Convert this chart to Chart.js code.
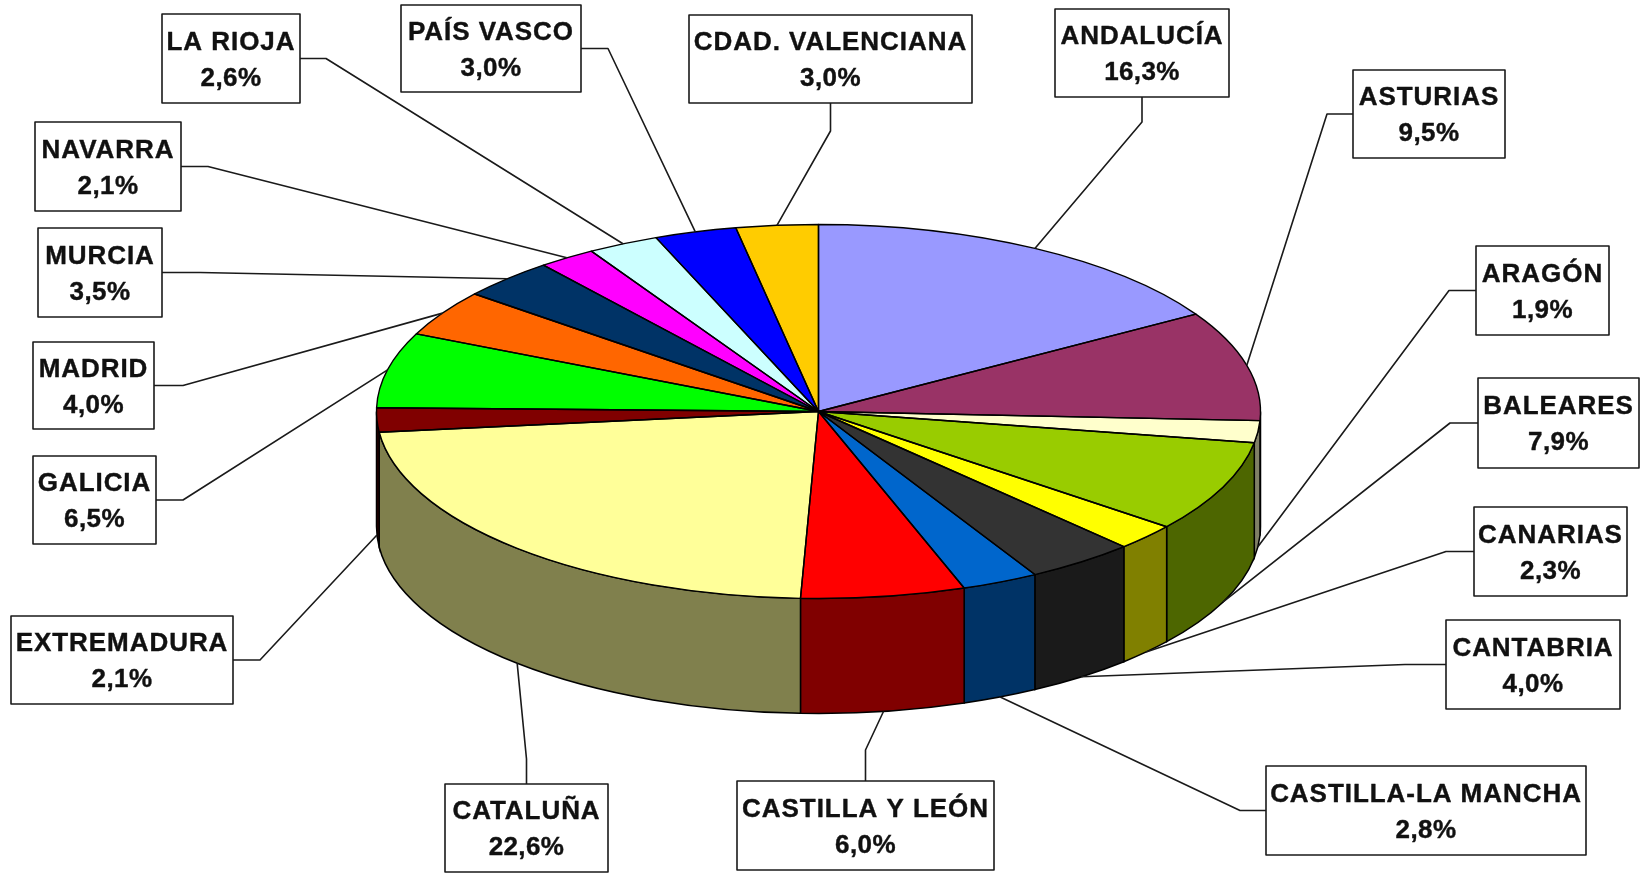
<!DOCTYPE html>
<html>
<head>
<meta charset="utf-8">
<style>html,body{margin:0;padding:0;background:#fff}#w{width:1641px;height:874px;position:relative}</style>
<script src="https://cdn.jsdelivr.net/npm/chart.js@4"></script>
</head>
<body>
<div id="w"><canvas id="c" role="img" aria-label="Gráfico de sectores por comunidades autónomas"></canvas></div>
<script>
const categories = ['ANDALUCÍA','ASTURIAS','ARAGÓN','BALEARES','CANARIAS','CANTABRIA','CASTILLA-LA MANCHA','CASTILLA Y LEÓN','CATALUÑA','EXTREMADURA','GALICIA','MADRID','MURCIA','NAVARRA','LA RIOJA','PAÍS VASCO','CDAD. VALENCIANA'];
const shares = [16.3,9.5,1.9,7.9,2.3,4.0,2.8,6.0,22.6,2.1,6.5,4.0,3.5,2.1,2.6,3.0,3.0];
const topColors = ['#9999FF','#993366','#FFFFCC','#99CC00','#FFFF00','#333333','#0066CC','#FF0000','#FFFF99','#800000','#00FF00','#FF6600','#003366','#FF00FF','#CCFFFF','#0000FF','#FFCC00'];
const wallColors = ['#4D4D80','#4D1A33','#808066','#4D6600','#808000','#1A1A1A','#003366','#800000','#80804D','#260000','#008000','#803300','#001A33','#800080','#668080','#000080','#806600'];

// label box layout: x, y, w, h, side the leader leaves from, elbow distance
const boxes = [
  [1055,9,174,88,'b',25],[1353,70,152,88,'l',26],[1476,246,133,89,'l',27],[1478,378,161,90,'l',28],
  [1474,507,153,89,'l',28],[1446,620,174,89,'l',41],[1266,766,320,89,'l',26],[737,781,257,89,'t',31],
  [445,784,163,88,'t',25],[11,616,222,88,'r',27],[33,456,123,88,'r',27],[33,342,121,87,'r',29],
  [38,228,124,89,'r',38],[35,122,146,89,'r',27],[162,14,138,89,'r',26],[401,5,180,87,'r',27],[689,15,283,88,'b',28]
];
const squash = 187/442, depth = 115, ink = '#1a1a1a';

const pie3d = {
  id:'pie3d',
  beforeDatasetsDraw(chart){
    const {ctx} = chart, arcs = chart.getDatasetMeta(0).data;
    ctx.save();
    ctx.lineWidth = 1.5; ctx.strokeStyle = '#000';
    arcs.forEach((a,i)=>{
      const s = Math.max(a.startAngle,0), e = Math.min(a.endAngle,Math.PI);
      if (e <= s) return;
      const rx = a.outerRadius, ry = rx*squash;
      ctx.beginPath();
      ctx.ellipse(a.x,a.y,rx,ry,0,s,e);
      ctx.ellipse(a.x,a.y+depth,rx,ry,0,e,s,true);
      ctx.closePath();
      ctx.fillStyle = wallColors[i]; ctx.fill(); ctx.stroke();
    });
    ctx.restore();
    const a = arcs[0];
    ctx.save();
    ctx.translate(a.x,a.y); ctx.scale(1,squash); ctx.translate(-a.x,-a.y);
  },
  afterDatasetsDraw(chart){
    const {ctx} = chart, arcs = chart.getDatasetMeta(0).data;
    ctx.restore();
    ctx.save();
    arcs.forEach(a=>{
      const rx = a.outerRadius, ry = rx*squash;
      ctx.beginPath();
      ctx.moveTo(a.x,a.y);
      ctx.ellipse(a.x,a.y,rx,ry,0,a.startAngle,a.endAngle);
      ctx.closePath();
      ctx.lineWidth = 1.4; ctx.strokeStyle = '#000'; ctx.lineJoin='round'; ctx.stroke();
    });
    // leaders and boxes
    ctx.lineWidth = 1.6; ctx.strokeStyle = ink;
    arcs.forEach((a,i)=>{
      const [x,y,w,h,side,el] = boxes[i];
      const mid = (a.startAngle+a.endAngle)/2;
      const rx = a.outerRadius, ry = rx*squash;
      const ex = a.x+rx*Math.cos(mid);
      let ey = a.y+ry*Math.sin(mid);
      if (Math.sin(mid) > 0) ey += depth;
      let p, q;
      if (side==='l'){p=[x,y+h/2];q=[x-el,y+h/2];}
      if (side==='r'){p=[x+w,y+h/2];q=[x+w+el,y+h/2];}
      if (side==='t'){p=[x+w/2,y];q=[x+w/2,y-el];}
      if (side==='b'){p=[x+w/2,y+h];q=[x+w/2,y+h+el];}
      ctx.beginPath();ctx.moveTo(p[0],p[1]);ctx.lineTo(q[0],q[1]);ctx.lineTo(ex,ey);ctx.stroke();
    });
    arcs.forEach((a,i)=>{
      const [x,y,w,h] = boxes[i];
      ctx.fillStyle='#fff';ctx.fillRect(x,y,w,h);
      ctx.lineWidth=1.6;ctx.strokeStyle=ink;ctx.strokeRect(x,y,w,h);
      ctx.fillStyle='#111';ctx.strokeStyle='#111';ctx.lineWidth=0.4;
      ctx.textAlign='center';ctx.textBaseline='middle';
      ctx.font='bold 26px "Liberation Sans", Arial, sans-serif';
      const name = categories[i], pct = shares[i].toFixed(1).replace('.',',')+'%';
      ctx.letterSpacing='0.95px';
      ctx.fillText(name,x+w/2,y+h/2-16);ctx.strokeText(name,x+w/2,y+h/2-16);
      ctx.letterSpacing='0.4px';
      ctx.fillText(pct,x+w/2,y+h/2+20);ctx.strokeText(pct,x+w/2,y+h/2+20);
    });
    ctx.restore();
  }
};

new Chart(document.getElementById('c'),{
  type:'pie',
  data:{labels:categories,datasets:[{data:shares,backgroundColor:topColors,borderWidth:0,clip:false}]},
  options:{
    responsive:true,maintainAspectRatio:false,animation:false,
    radius:442,rotation:0,
    layout:{padding:{left:0,right:4,top:0,bottom:51}},
    plugins:{legend:{display:false},tooltip:{enabled:false}},
    events:[]
  },
  plugins:[pie3d]
});
</script>
</body>
</html>
